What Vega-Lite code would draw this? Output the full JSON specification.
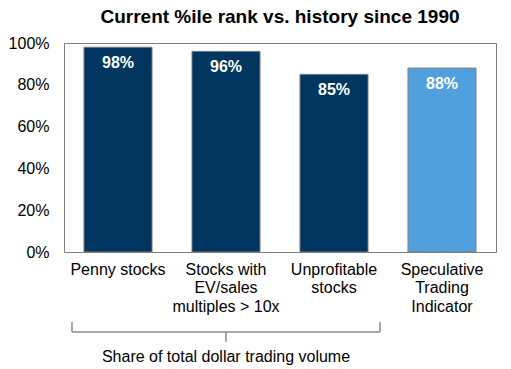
{
  "$schema": "https://vega.github.io/schema/vega-lite/v6.json",
  "width": 432,
  "height": 209,
  "autosize": {"type": "none"},
  "padding": {"left": 64, "top": 43, "right": 15, "bottom": 117},
  "background": "white",
  "title": {
    "text": "Current %ile rank vs. history since 1990",
    "font": "Liberation Sans",
    "fontSize": 19,
    "fontWeight": "bold",
    "color": "black",
    "anchor": "middle",
    "offset": 8
  },
  "config": {
    "view": {"stroke": "#808080", "strokeWidth": 1},
    "font": "Liberation Sans",
    "axisY": {
      "title": null,
      "format": ".0%",
      "values": [0, 0.2, 0.4, 0.6, 0.8, 1],
      "grid": false,
      "ticks": false,
      "domain": false,
      "labelFont": "Liberation Sans",
      "labelFontSize": 16,
      "labelColor": "black",
      "labelPadding": 15
    }
  },
  "layer": [
    {
      "data": {
        "values": [
          {"category": "Penny stocks", "value": 0.98, "group": "share"},
          {"category": "Stocks with|EV/sales|multiples > 10x", "value": 0.96, "group": "share"},
          {"category": "Unprofitable|stocks", "value": 0.85, "group": "share"},
          {"category": "Speculative|Trading|Indicator", "value": 0.88, "group": "indicator"}
        ]
      },
      "layer": [
        {
          "mark": {"type": "bar", "stroke": "#7f7f7f", "strokeWidth": 1},
          "encoding": {
            "x": {
              "field": "category",
              "type": "nominal",
              "sort": null,
              "scale": {"paddingInner": 0.37, "paddingOuter": 0.185},
              "axis": {
                "title": null,
                "ticks": false,
                "domain": false,
                "labelAngle": 0,
                "labelFont": "Liberation Sans",
                "labelFontSize": 16,
                "labelColor": "black",
                "labelPadding": 9,
                "labelLineHeight": 18.5,
                "labelBaseline": "top",
                "labelExpr": "split(datum.label, '|')"
              }
            },
            "y": {
              "field": "value",
              "type": "quantitative",
              "title": null,
              "scale": {"domain": [0, 1]}
            },
            "color": {
              "field": "group",
              "type": "nominal",
              "scale": {"domain": ["share", "indicator"], "range": ["#00365f", "#50a0de"]},
              "legend": null
            }
          }
        },
        {
          "mark": {"type": "text", "color": "white", "font": "Liberation Sans", "fontSize": 16, "fontWeight": "bold", "baseline": "middle", "dy": 16},
          "encoding": {
            "x": {"field": "category", "type": "nominal", "sort": null},
            "y": {"field": "value", "type": "quantitative", "title": null, "scale": {"domain": [0, 1]}},
            "text": {"field": "value", "type": "quantitative", "format": ".0%"}
          }
        }
      ]
    },
    {
      "data": {
        "values": [
          {"x": 0.074, "x2": 0.074, "y": -0.335, "y2": -0.383},
          {"x": 0.074, "x2": 2.926, "y": -0.383, "y2": -0.383},
          {"x": 2.926, "x2": 2.926, "y": -0.335, "y2": -0.383},
          {"x": 1.5, "x2": 1.5, "y": -0.383, "y2": -0.43}
        ]
      },
      "mark": {"type": "rule", "color": "#8c8c8c", "strokeWidth": 1.5, "clip": false},
      "encoding": {
        "x": {"field": "x", "type": "quantitative", "scale": {"domain": [0, 4], "nice": false, "zero": false}, "axis": null},
        "x2": {"field": "x2"},
        "y": {"field": "y", "type": "quantitative", "title": null, "scale": {"domain": [0, 1]}},
        "y2": {"field": "y2"}
      }
    },
    {
      "data": {"values": [{"x": 1.5, "y": -0.5, "label": "Share of total dollar trading volume"}]},
      "mark": {"type": "text", "font": "Liberation Sans", "fontSize": 16, "color": "black", "baseline": "middle", "align": "center", "clip": false},
      "encoding": {
        "x": {"field": "x", "type": "quantitative", "scale": {"domain": [0, 4], "nice": false, "zero": false}, "axis": null},
        "y": {"field": "y", "type": "quantitative", "title": null, "scale": {"domain": [0, 1]}},
        "text": {"field": "label"}
      }
    }
  ],
  "resolve": {"scale": {"x": "independent"}}
}
